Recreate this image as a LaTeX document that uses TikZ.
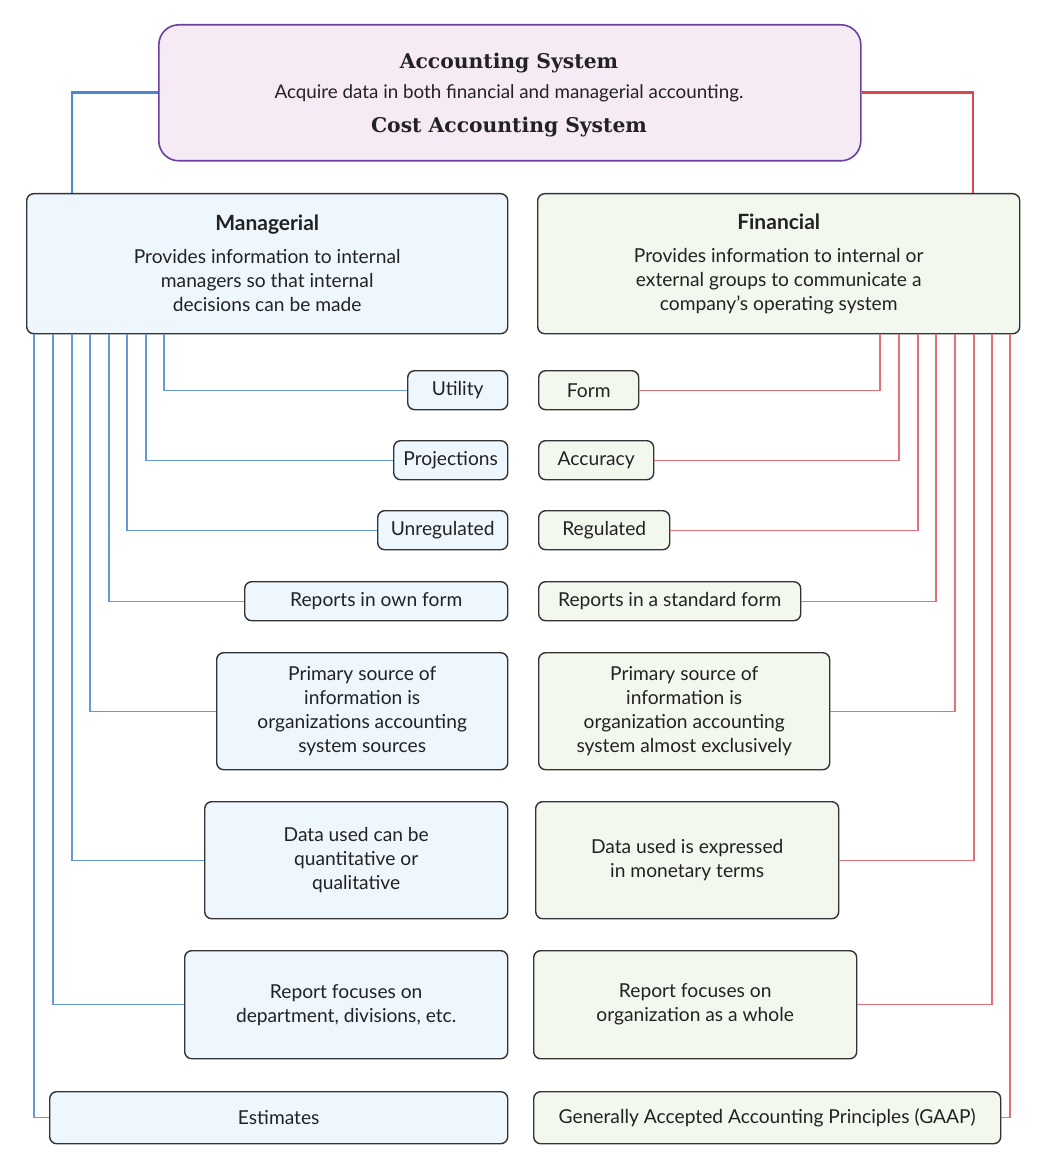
\documentclass[tikz,border=0pt]{standalone}
\usepackage{fontspec}
\setmainfont{Lato}
\newfontfamily\slab{DejaVu Serif}
\definecolor{topfill}{HTML}{F6EBF4}
\definecolor{topbord}{HTML}{6B3FA0}
\definecolor{mfill}{HTML}{EEF7FE}
\definecolor{ffill}{HTML}{F3F8EF}
\definecolor{bord}{HTML}{333333}
\definecolor{txt}{HTML}{222222}
\definecolor{blue1}{HTML}{4A88D6}
\definecolor{blue2}{HTML}{6499DC}
\definecolor{red1}{HTML}{D94850}
\definecolor{red2}{HTML}{E2707A}
\begin{document}
\begin{tikzpicture}[x=1pt,y=-1pt,
  bx/.style={draw=bord, line width=1.4pt, rounded corners=7pt, anchor=north west, inner sep=0pt, align=center, font=\fontsize{19.2}{24}\selectfont, text=txt},
  mb/.style={bx, fill=mfill},
  fb/.style={bx, fill=ffill},
  ttl/.style={inner sep=0pt, text=txt, font=\slab\bfseries\fontsize{20.3}{22}\selectfont},
  sub/.style={inner sep=0pt, text=txt, font=\fontsize{18.8}{22}\selectfont},
  bl/.style={draw=blue2, line width=1.3pt},
  rd/.style={draw=red2, line width=1.3pt},
  blk/.style={draw=blue1, line width=2.6pt},
  rdk/.style={draw=red1, line width=2.6pt}]
\useasboundingbox (0,0) rectangle (1043,1169);
% top
\node[draw=topbord, fill=topfill, line width=1.6pt, rounded corners=20pt, anchor=north west, inner sep=0pt, minimum width=702pt, minimum height=136pt] (top) at (158,24) {};
\node[ttl] (t1) at (509,63) {Accounting System};
\node[sub] (t2) at (509,93) {Acquire data in both financial and managerial accounting.};
\node[ttl] (t3) at (509,127) {Cost Accounting System};
% headers
\node[mb, minimum width=481pt, minimum height=140pt] (man) at (26,193)
 {{\bfseries\fontsize{21}{24}\selectfont Managerial}\\[9pt]Provides information to internal\\managers so that internal\\decisions can be made};
\node[fb, minimum width=482pt, minimum height=140pt] (fin) at (537,193)
 {{\bfseries\fontsize{21}{24}\selectfont Financial}\\[9pt]Provides information to internal or\\external groups to communicate a\\company’s operating system};
% left boxes
\node[mb, minimum width=100pt, minimum height=39pt] (l1) at (407,370) {Utility};
\node[mb, minimum width=114pt, minimum height=39pt] (l2) at (393,440) {Projections};
\node[mb, minimum width=130pt, minimum height=39pt] (l3) at (377,510) {Unregulated};
\node[mb, minimum width=263pt, minimum height=39pt] (l4) at (244,581) {Reports in own form};
\node[mb, minimum width=291pt, minimum height=117pt] (l5) at (216,652) {Primary source of\\information is\\organizations accounting\\system sources};
\node[mb, minimum width=303pt, minimum height=117pt] (l6) at (204,801) {Data used can be\\quantitative or\\qualitative};
\node[mb, minimum width=323pt, minimum height=108pt] (l7) at (184,950) {Report focuses on\\department, divisions, etc.};
\node[mb, minimum width=458pt, minimum height=52pt] (l8) at (49,1091) {Estimates};
% right boxes
\node[fb, minimum width=100pt, minimum height=39pt] (r1) at (538,370) {Form};
\node[fb, minimum width=115pt, minimum height=39pt] (r2) at (538,440) {Accuracy};
\node[fb, minimum width=131pt, minimum height=39pt] (r3) at (538,510) {Regulated};
\node[fb, minimum width=262pt, minimum height=39pt] (r4) at (538,581) {Reports in a standard form};
\node[fb, minimum width=291pt, minimum height=117pt] (r5) at (538,652) {Primary source of\\information is\\organization accounting\\system almost exclusively};
\node[fb, minimum width=303pt, minimum height=117pt] (r6) at (535,801) {Data used is expressed\\in monetary terms};
\node[fb, minimum width=323pt, minimum height=108pt] (r7) at (533,950) {Report focuses on\\organization as a whole};
\node[fb, minimum width=467pt, minimum height=52pt] (r8) at (533,1091) {Generally Accepted Accounting Principles (GAAP)};
% column coordinates
\coordinate (bx0) at (72,0);
\coordinate (rx0) at (973,0);
\foreach \i/\x in {1/164,2/146,3/127,4/109,5/90,6/72,7/53,8/34} {\coordinate (bx\i) at (\x,0);}
\foreach \i/\x in {1/880,2/899,3/918,4/936,5/955,6/974,7/992,8/1010} {\coordinate (rx\i) at (\x,0);}
% thick connectors
\draw[blk] (top.west) -| (man.north -| bx0);
\draw[rdk] (top.east) -| (fin.north -| rx0);
% thin connectors
\foreach \i in {1,...,8} {
  \draw[bl] (man.south -| bx\i) |- (l\i.west);
  \draw[rd] (fin.south -| rx\i) |- (r\i.east);
}
\end{tikzpicture}
\end{document}
